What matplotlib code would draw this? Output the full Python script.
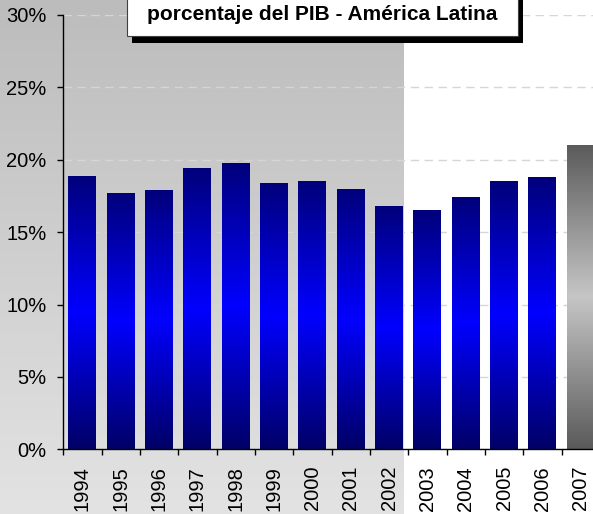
import numpy as np
import matplotlib
matplotlib.use('Agg')
import matplotlib.pyplot as plt
from matplotlib.patches import Rectangle
from matplotlib.colors import LinearSegmentedColormap

plt.rcParams['font.family'] = ['Liberation Sans', 'DejaVu Sans']

# --- Data
years = ['1994', '1995', '1996', '1997', '1998', '1999', '2000',
         '2001', '2002', '2003', '2004', '2005', '2006', '2007']
values = [18.9, 17.7, 17.9, 19.4, 19.8, 18.4, 18.5,
          18.0, 16.8, 16.5, 17.4, 18.5, 18.8, 21.0]
y_ticks = [0, 5, 10, 15, 20, 25, 30]
title = 'porcentaje del PIB - América Latina'
n_shaded = 9        # 1994-2002 sit on the grey band
projected = ['2007']

# --- Figure
W, H = 593, 514
fig = plt.figure(figsize=(W / 100, H / 100), dpi=100)
fig.patch.set_facecolor('white')

ax = fig.add_axes([63.3 / W, 64.7 / H, 536.6 / W, 434.3 / H], zorder=1)
ax.patch.set_alpha(0)

bw = 0.73
x = np.arange(len(years))
ax.set_xlim(-0.5, len(years) - 0.5)
ax.set_ylim(0, 30)

# grey band on the left, full figure height, ends at the 2002 bar edge
edge_px = ax.transData.transform((n_shaded - 1 + bw / 2, 0))[0]
bg = fig.add_axes([0, 0, edge_px / W, 1], zorder=0)
grad = np.linspace(0, 1, 2048).reshape(-1, 1)
shade = LinearSegmentedColormap.from_list('shade', ['#e3e3e3', '#bcbcbc'], N=2048)
bg.imshow(grad, cmap=shade, aspect='auto', origin='lower', extent=(0, 1, 0, 1),
          interpolation='nearest')
bg.axis('off')

# --- Bars with vertical gradients
blue = LinearSegmentedColormap.from_list('blue', ['#000066', '#0000ff', '#00007a'], N=2048)
grey = LinearSegmentedColormap.from_list('grey', ['#5a5a5a', '#c6c6c6', '#5a5a5a'], N=2048)

bars = ax.bar(x, values, width=bw, color='none', edgecolor='none', zorder=2)
for yr, b in zip(years, bars):
	cm = grey if yr in projected else blue
	im = ax.imshow(grad, cmap=cm, aspect='auto', origin='lower', zorder=2,
	               interpolation='nearest',
	               extent=(b.get_x(), b.get_x() + b.get_width(), 0, b.get_height()))
	im.set_clip_path(b)

ax.set_xlim(-0.5, len(years) - 0.5)
ax.set_ylim(0, 30)

# --- Axes styling
ax.yaxis.grid(True, color='#d6d6d6', linestyle=(0, (6, 4)), linewidth=1)
ax.set_axisbelow(True)

ax.set_yticks(y_ticks)
ax.set_yticklabels([f'{v}%' for v in y_ticks])
ax.set_xticks(x)
ax.set_xticklabels(years, rotation=90)
ax.set_xticks(np.arange(len(years) + 1) - 0.5, minor=True)

ax.tick_params(axis='x', which='major', length=0, pad=12, labelsize=14.5)
ax.tick_params(axis='x', which='minor', length=4, width=1, color='black')
ax.tick_params(axis='y', length=4, width=1, pad=8, labelsize=14.5)

for s in ['top', 'right']:
	ax.spines[s].set_visible(False)
for s in ['left', 'bottom']:
	ax.spines[s].set_linewidth(1)
	ax.spines[s].set_color('black')

# --- Title box with drop shadow
bx, by, bwid, bht = 126.7, 36, 391.3, 50
fig.add_artist(Rectangle(((bx + 5) / W, (H - by - 6.7) / H), bwid / W, bht / H,
                         transform=fig.transFigure, facecolor='black',
                         edgecolor='none', zorder=5))
fig.add_artist(Rectangle((bx / W, (H - by) / H), bwid / W, bht / H,
                         transform=fig.transFigure, facecolor='white',
                         edgecolor='#404040', linewidth=0.8, zorder=6))
fig.text((bx + bwid / 2) / W, (H - 14) / H, title, ha='center', va='center',
         fontsize=15, fontweight='bold', zorder=7)

fig.savefig('out.png', dpi=100)
